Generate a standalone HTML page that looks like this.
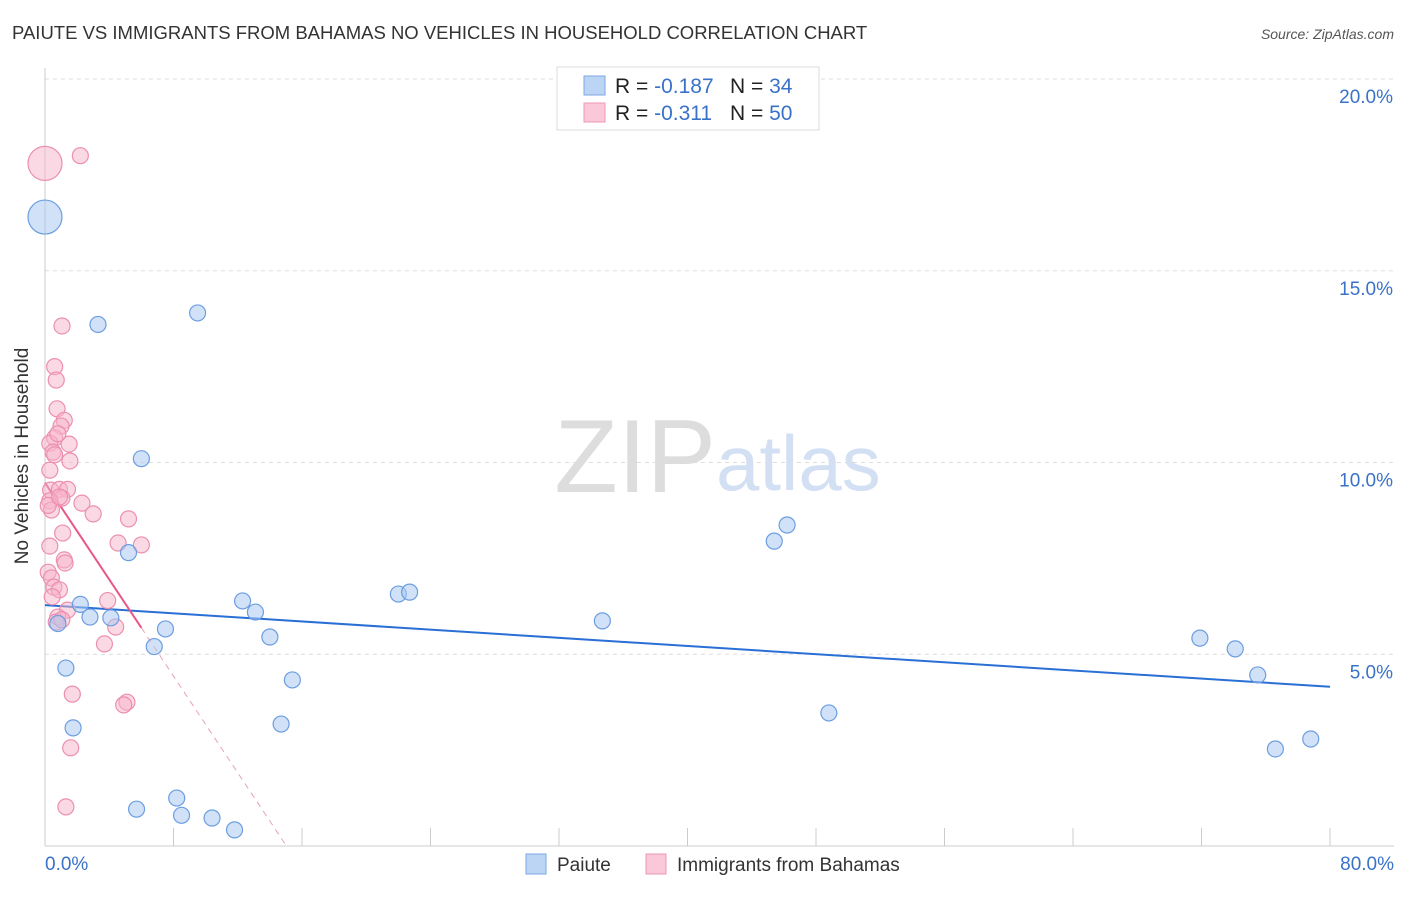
<!DOCTYPE html>
<html><head><meta charset="utf-8"><style>
body{margin:0;background:#fff;font-family:"Liberation Sans",sans-serif}
svg text{font-family:"Liberation Sans",sans-serif}
</style></head><body>
<svg id="chart" width="1406" height="892" xmlns="http://www.w3.org/2000/svg">
<text x="12" y="39" font-size="18.5" fill="#333">PAIUTE VS IMMIGRANTS FROM BAHAMAS NO VEHICLES IN HOUSEHOLD CORRELATION CHART</text>
<text x="1394" y="39" font-size="14" fill="#555" text-anchor="end" font-style="italic">Source: ZipAtlas.com</text>
<text x="28" y="456" font-size="19" fill="#333" text-anchor="middle" transform="rotate(-90 28 456)">No Vehicles in Household</text>
<text x="716" y="492" font-size="104" fill="#ddd" text-anchor="end" font-family="Liberation Serif">ZIP</text>
<text x="716" y="490" font-size="78" fill="#d3e0f3">atlas</text>
<g id="grid"></g><g id="axes"></g><g id="lines"></g><g id="pts"></g>
<g>
<rect x="557" y="67" width="262" height="63" fill="#fff" stroke="#ddd"/>
<rect x="584" y="76" width="21" height="19" fill="#bcd5f5" stroke="#7aa7e3"/>
<rect x="584" y="103" width="21" height="19" fill="#fac8d8" stroke="#ee99b6"/>
<text x="615" y="93" font-size="21" fill="#222">R = <tspan fill="#3a72c9">-0.187</tspan></text>
<text x="730" y="93" font-size="21" fill="#222">N = <tspan fill="#3a72c9">34</tspan></text>
<text x="615" y="120" font-size="21" fill="#222">R = <tspan fill="#3a72c9"> -0.311</tspan></text>
<text x="730" y="120" font-size="21" fill="#222">N = <tspan fill="#3a72c9">50</tspan></text>
</g>
<g>
<rect x="526" y="854" width="20" height="20" fill="#bcd5f5" stroke="#7aa7e3"/>
<text x="557" y="871" font-size="19" fill="#333">Paiute</text>
<rect x="646" y="854" width="20" height="20" fill="#fac8d8" stroke="#ee99b6"/>
<text x="677" y="871" font-size="19" fill="#333">Immigrants from Bahamas</text>
</g>
</svg>
<script>
const paiuteX=[0,3.3,9.5,6.0,5.2,2.2,2.8,4.1,0.8,7.5,6.8,1.3,1.75,5.7,8.2,8.5,10.4,11.8,12.3,13.1,14.0,15.4,14.7,22.0,22.7,34.7,45.4,46.2,48.8,71.9,74.1,75.5,76.6,78.8];
const paiuteY=[16.4,13.6,13.9,10.1,7.65,6.3,5.97,5.95,5.8,5.66,5.2,4.64,3.08,0.96,1.25,0.8,0.73,0.42,6.39,6.1,5.45,4.33,3.18,6.57,6.62,5.87,7.95,8.37,3.47,5.42,5.14,4.46,2.53,2.79];
const bahamasX=[0,2.2,1.06,0.6,0.7,0.75,1.2,1.0,0.6,0.3,1.5,0.5,1.55,0.3,0.35,0.9,1.4,1.05,0.3,0.4,2.3,3.0,5.2,1.1,4.55,6.0,0.3,1.2,1.25,0.2,0.4,0.55,0.9,3.9,1.4,0.8,0.7,4.4,3.7,1.7,5.1,4.9,1.6,1.3,0.45,0.2,0.6,0.9,1.05,0.8];
const bahamasY=[17.8,18.0,13.56,12.5,12.15,11.4,11.1,10.95,10.64,10.5,10.48,10.27,10.04,9.8,9.28,9.3,9.3,9.07,9.0,8.76,8.94,8.66,8.53,8.16,7.9,7.85,7.82,7.46,7.38,7.14,6.99,6.75,6.68,6.4,6.15,5.97,5.84,5.71,5.27,3.96,3.75,3.68,2.56,1.02,6.5,8.88,10.2,9.1,5.9,10.75];
const bigIdx=[0];
const paiuteTrend=[6.28,-0.0266];
const bahamasTrend=[9.47,-0.63];
const yTicks=[5,10,15,20];
const yTickLabels=["5.0%","10.0%","15.0%","20.0%"];
const xTicks=[0,8,16,24,32,40,48,56,64,72,80];
const NS="http://www.w3.org/2000/svg";
const sx=v=>45+v*1285/80, sy=v=>846-v*38.35;
function mk(t,a,p){const e=document.createElementNS(NS,t);for(const k in a)e.setAttribute(k,a[k]);document.getElementById(p).appendChild(e);return e;}
yTicks.forEach((v,i)=>{
 const l=mk('line',{x1:45,x2:1394,y1:sy(v),y2:sy(v),stroke:'#ddd','stroke-dasharray':'4,4'},'grid');
 
 
 const t=mk('text',{x:1393,y:sy(v)+24,'font-size':19,fill:'#3a72c9','text-anchor':'end'},'axes');
 t.textContent=yTickLabels[i];
 
 
});
let ax=mk('line',{x1:45,x2:45,y1:68,y2:846,stroke:'#ccc'},'axes');


ax=mk('line',{x1:45,x2:1394,y1:846,y2:846,stroke:'#ccc'},'axes');


xTicks.forEach(v=>{
 const l=mk('line',{x1:sx(v),x2:sx(v),y1:828,y2:846,stroke:'#ccc'},'axes');
 
 
});
let t=mk('text',{x:45,y:870,'font-size':19,fill:'#3a72c9'},'axes');t.textContent='0.0%';


t=mk('text',{x:1394,y:870,'font-size':19,fill:'#3a72c9','text-anchor':'end'},'axes');t.textContent='80.0%';


let L=mk('line',{x1:sx(0),y1:sy(paiuteTrend[0]),x2:sx(80),y2:sy(paiuteTrend[0]+paiuteTrend[1]*80),stroke:'#2a6fd6','stroke-width':2},'lines');


const bMax=Math.max(...bahamasX), bZero=-bahamasTrend[0]/bahamasTrend[1];
L=mk('line',{x1:sx(bMax),y1:sy(bahamasTrend[0]+bahamasTrend[1]*bMax),x2:sx(bZero),y2:sy(0),stroke:'#e8a0b8','stroke-width':1,'stroke-dasharray':'6,5'},'lines');


L=mk('line',{x1:sx(0),y1:sy(bahamasTrend[0]),x2:sx(bMax),y2:sy(bahamasTrend[0]+bahamasTrend[1]*bMax),stroke:'#e8578a','stroke-width':2},'lines');


bahamasX.forEach((x,i)=>{
 const c=mk('circle',{cx:sx(x),cy:sy(bahamasY[i]),r:bigIdx.includes(i)?17:8,fill:'#f7b3ca','fill-opacity':0.5,stroke:'#ec8fb0','stroke-width':1.2},'pts');
 
 
});
paiuteX.forEach((x,i)=>{
 const c=mk('circle',{cx:sx(x),cy:sy(paiuteY[i]),r:bigIdx.includes(i)?17:8,fill:'#a9c8f2','fill-opacity':0.55,stroke:'#6c9ee0','stroke-width':1.2},'pts');
 
 
});
</script>
</body></html>
